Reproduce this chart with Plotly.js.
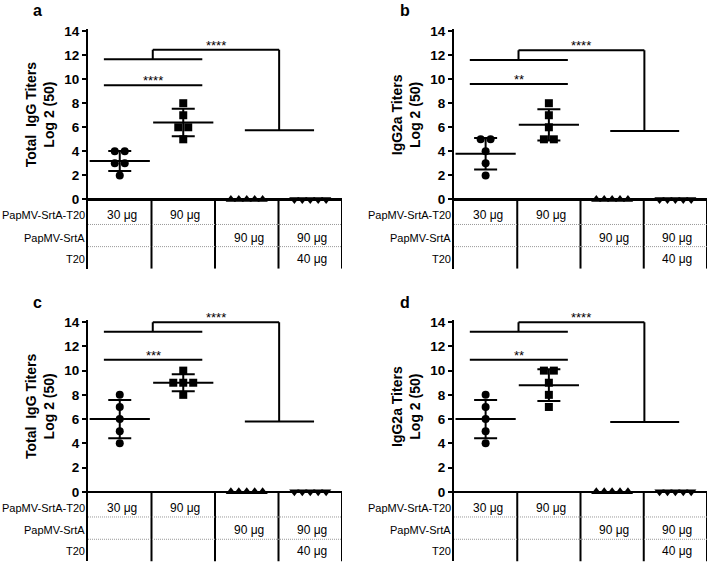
<!DOCTYPE html>
<html>
<head>
<meta charset="utf-8">
<script src="https://cdn.plot.ly/plotly-3.0.1.min.js"></script>
<style>html,body{margin:0;padding:0;background:#fff;}#chart{width:710px;height:562px;}</style>
</head>
<body>
<div id="chart"></div>
<script>
// ---------------- data ----------------
const panelLetters = ['a', 'b', 'c', 'd'];
const yTitles = [['Total  IgG Titers', 'Log 2 (50)'], ['IgG2a Titers', 'Log 2 (50)'], ['Total  IgG Titers', 'Log 2 (50)'], ['IgG2a Titers', 'Log 2 (50)']];

// group 1: PapMV-SrtA-T20 30 µg (circles), group 2: PapMV-SrtA-T20 90 µg (squares)
// group 3: PapMV-SrtA 90 µg (triangles up), group 4: PapMV-SrtA 90 µg + T20 40 µg (triangles down)
const aCircle = [4, 4, 3, 3, 2];
const aSquare = [8, 7, 6, 6, 5];
const bCircle = [5, 5, 4, 3, 2];
const bSquare = [8, 7, 6, 5, 5];
const cCircle = [8, 7, 6, 5, 4];
const cSquare = [10, 9, 9, 9, 8];
const dCircle = [8, 7, 6, 5, 4];
const dSquare = [10, 10, 9, 8, 7];
const aTriUp = [0, 0, 0, 0, 0];
const aTriDown = [0, 0, 0, 0, 0];
const bTriUp = [0, 0, 0, 0, 0];
const bTriDown = [0, 0, 0, 0, 0];
const cTriUp = [0, 0, 0, 0, 0];
const cTriDown = [0, 0, 0, 0, 0];
const dTriUp = [0, 0, 0, 0, 0];
const dTriDown = [0, 0, 0, 0, 0];

// significance
const sigLower = ['****', '**', '***', '**'];
const sigUpper = ['****', '****', '****', '****'];
const bracketLowerY = [9.5, 9.6, 10.9, 10.9];
const bracketUpperBaseY = [11.65, 11.6, 13.2, 13.2];
const bracketUpperTopY = [12.45, 12.4, 14.0, 14.0];
const bracketDropY = [5.75, 5.7, 5.8, 5.75];

// table below the axis
const tableRows = ['PapMV-SrtA-T20', 'PapMV-SrtA', 'T20'];
const tableCells = [
  ['30 μg', '90 μg', '', ''],
  ['', '', '90 μg', '90 μg'],
  ['', '', '', '40 μg']
];
const yTicks = [0, 2, 4, 6, 8, 10, 12, 14];

// ---------------- layout helpers ----------------
const W = 710, H = 562;
const panelData = [
  [aCircle, aSquare, aTriUp, aTriDown],
  [bCircle, bSquare, bTriUp, bTriDown],
  [cCircle, cSquare, cTriUp, cTriDown],
  [dCircle, dSquare, dTriUp, dTriDown]
];
const xDomains = [[88 / W, 342 / W], [454 / W, 707 / W], [88 / W, 342 / W], [454 / W, 707 / W]];
const yDomains = [[0.522, 0.948], [0.522, 0.948], [0.001, 0.43], [0.001, 0.43]];
const letterPos = [[37, 10], [405, 10], [37, 302], [405, 302]];
const yMin = -5.75, yMax = 14.15;
const rowY = [-1.33, -3.17, -4.92];
const dotY = [-2.08, -3.92];

function offsets(vals, spacing) {
  return vals.map((v, i) => {
    const same = vals.map((w, j) => [w, j]).filter(p => p[0] === v);
    const k = same.findIndex(p => p[1] === i);
    return (k - (same.length - 1) / 2) * spacing;
  });
}
function mean(a) { return a.reduce((s, v) => s + v, 0) / a.length; }
function sd(a) { const m = mean(a); return Math.sqrt(a.reduce((s, v) => s + (v - m) * (v - m), 0) / (a.length - 1)); }

const traces = [], shapes = [], annotations = [];
const layout = {
  width: W, height: H, margin: {l: 0, r: 0, t: 0, b: 0},
  paper_bgcolor: '#fff', plot_bgcolor: 'rgba(0,0,0,0)',
  showlegend: false,
  font: {family: 'Liberation Sans, Arial, sans-serif', color: '#000'}
};
const symbols = ['circle', 'square', 'triangle-up', 'triangle-down'];
const spacings = [0.157, 0.157, 0.125, 0.125];

panelData.forEach((groups, p) => {
  const xa = p === 0 ? 'x' : 'x' + (p + 1);
  const ya = p === 0 ? 'y' : 'y' + (p + 1);
  const xKey = p === 0 ? 'xaxis' : 'xaxis' + (p + 1);
  const yKey = p === 0 ? 'yaxis' : 'yaxis' + (p + 1);
  layout[xKey] = {domain: xDomains[p], anchor: ya, range: [0.5, 4.5], showgrid: false, zeroline: false,
    showline: false, showticklabels: false, ticks: '', fixedrange: true};
  layout[yKey] = {domain: yDomains[p], anchor: xa, range: [yMin, yMax], tickvals: yTicks, ticks: 'outside',
    ticklen: 4, tickwidth: 2, tickcolor: '#000', showline: true, linewidth: 2, linecolor: '#000',
    showgrid: false, zeroline: true, zerolinewidth: 2.5, zerolinecolor: '#000',
    tickfont: {size: 13.5, weight: 'bold', color: '#000'}, fixedrange: true};

  // mean ± SD for groups with spread
  const meanX = [], meanY = [], sdY = [];
  groups.forEach((vals, g) => {
    if (sd(vals) > 0) { meanX.push(g + 1); meanY.push(mean(vals)); sdY.push(sd(vals)); }
  });
  traces.push({type: 'scatter', mode: 'markers', xaxis: xa, yaxis: ya, x: meanX, y: meanY,
    marker: {symbol: 'line-ew', size: 43, color: '#000', line: {width: 2, color: '#000'}},
    error_y: {type: 'data', array: sdY, visible: true, width: 11.5, thickness: 2, color: '#000'},
    hoverinfo: 'skip', cliponaxis: false});

  groups.forEach((vals, g) => {
    const off = offsets(vals, spacings[g]);
    traces.push({type: 'scatter', mode: 'markers', xaxis: xa, yaxis: ya,
      x: vals.map((v, i) => g + 1 + off[i]), y: vals,
      marker: {symbol: symbols[g], size: g < 2 ? 8 : 9, color: '#000'}, cliponaxis: false});
  });

  // table lines
  [1.5, 2.5, 3.5, 4.5].forEach(x => shapes.push({type: 'line', xref: xa, yref: ya, x0: x, x1: x, y0: 0, y1: yMin,
    line: {color: '#000', width: 2}}));
  dotY.forEach(y => shapes.push({type: 'line', xref: xa, yref: ya, x0: 0.5, x1: 4.5, y0: y, y1: y,
    line: {color: '#999', width: 1, dash: '1px,1px'}}));
  tableRows.forEach((r, i) => {
    annotations.push({xref: xa + ' domain', yref: ya, x: 0, y: rowY[i], xanchor: 'right', yanchor: 'middle',
      xshift: -1, text: r, showarrow: false, font: {size: 11, color: '#000'}});
    tableCells[i].forEach((c, j) => {
      if (c) annotations.push({xref: xa, yref: ya, x: j + 1, y: rowY[i], xanchor: 'center', yanchor: 'middle',
        xshift: 2, text: c, showarrow: false, font: {size: 12, color: '#000'}});
    });
  });

  // brackets
  const L = bracketLowerY[p], U = bracketUpperBaseY[p], T = bracketUpperTopY[p], D = bracketDropY[p];
  const lw = {color: '#000', width: 2};
  const seg = (x0, y0, x1, y1) => shapes.push({type: 'line', xref: xa, yref: ya, x0, y0, x1, y1, line: lw});
  seg(0.75, L, 2.3, L);
  seg(0.75, U, 2.3, U);
  seg(1.52, U, 1.52, T);
  seg(1.52, T, 3.51, T);
  seg(3.51, T, 3.51, D);
  seg(2.97, D, 4.06, D);
  annotations.push({xref: xa, yref: ya, x: (0.75 + 2.3) / 2, y: L, yanchor: 'bottom', yshift: -5,
    text: sigLower[p], showarrow: false, font: {size: 13, color: '#000'}});
  annotations.push({xref: xa, yref: ya, x: (1.52 + 3.51) / 2, y: T, yanchor: 'bottom', yshift: -5,
    text: sigUpper[p], showarrow: false, font: {size: 13, color: '#000'}});

  // y title
  annotations.push({xref: 'paper', yref: ya, x: (xDomains[p][0] * W - 48) / W, y: 7, xanchor: 'center', yanchor: 'middle',
    textangle: -90, text: yTitles[p].join('<br>'), showarrow: false, font: {size: 14, weight: 'bold', color: '#000'}});
  // panel letter
  annotations.push({xref: 'paper', yref: 'paper', x: letterPos[p][0] / W, y: 1 - letterPos[p][1] / H,
    xanchor: 'center', yanchor: 'middle', text: panelLetters[p], showarrow: false,
    font: {size: 16, weight: 'bold', color: '#000'}});
});

layout.shapes = shapes;
layout.annotations = annotations;
Plotly.newPlot('chart', traces, layout, {staticPlot: true, displayModeBar: false});
</script>
</body>
</html>
